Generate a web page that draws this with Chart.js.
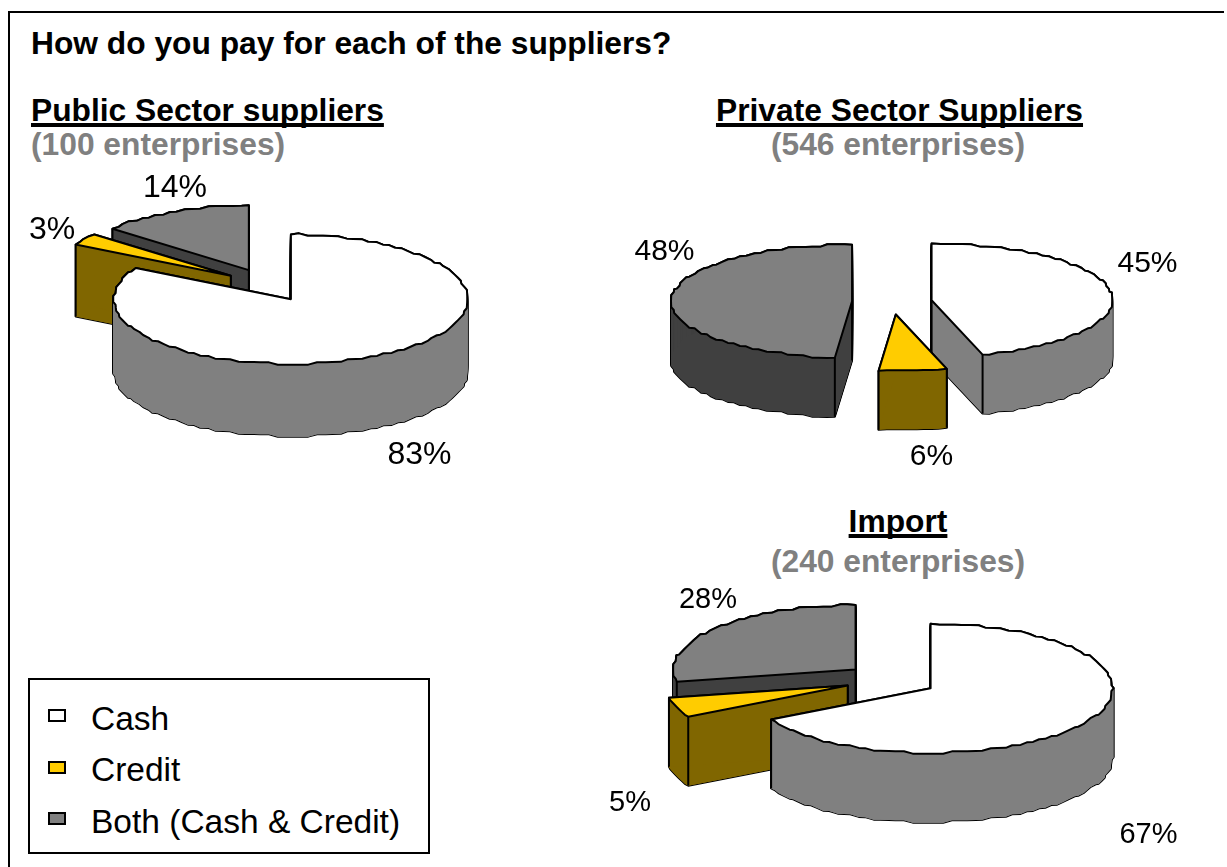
<!DOCTYPE html>
<html><head><meta charset="utf-8">
<script src="https://cdn.jsdelivr.net/npm/chart.js@4"></script>
<style>
html,body{margin:0;padding:0;background:#fff;}
body{width:1227px;height:867px;position:relative;overflow:hidden;font-family:"Liberation Sans",Arial,sans-serif;color:#000;}
#frame{position:absolute;left:8px;top:11px;width:1214px;height:870px;border-left:2px solid #000;border-top:2px solid #000;}
canvas{position:absolute;}
.t{position:absolute;white-space:nowrap;line-height:1;}
.b{font-weight:bold;font-size:31.75px;}
.u{text-decoration:underline;text-decoration-thickness:4px;text-underline-offset:1.5px;text-decoration-skip-ink:none;}
.g{color:#808080;}
.c{transform:translateX(-50%);}
#legend{position:absolute;left:28px;top:678px;width:398px;height:172px;border:2px solid #000;background:#fff;}
.sw{position:absolute;width:14px;height:9px;border:2px solid #000;box-sizing:content-box;}
</style></head><body>
<div id="frame"></div>
<div class="t b" style="left:31px;top:28px" id="heading"></div>
<div class="t b u" style="left:31px;top:95px" id="t0"></div>
<div class="t b g" style="left:31px;top:129px" id="s0"></div>
<div class="t b u c" style="left:899.5px;top:95px" id="t1"></div>
<div class="t b g c" style="left:898px;top:129px" id="s1"></div>
<div class="t b u c" style="left:898px;top:506px" id="t2"></div>
<div class="t b g c" style="left:898px;top:546px" id="s2"></div>
<div id="legend"></div>
<canvas id="c0"></canvas><canvas id="c1"></canvas><canvas id="c2"></canvas>
<script>
const heading = "How do you pay for each of the suppliers?";
const categories = ["Cash", "Credit", "Both (Cash & Credit)"];
const publicValues = [83, 3, 14];
const privateValues = [45, 6, 48];
const importValues = [67, 5, 28];
const chartTitles = ["Public Sector suppliers", "Private Sector Suppliers", "Import"];
const chartCounts = ["(100 enterprises)", "(546 enterprises)", "(240 enterprises)"];
const topColors = ["#FFFFFF", "#FFCC00", "#808080"];
const wallColors = ["#808080", "#806600", "#404040"];

const layouts = [
 {id:"c0", values:publicValues,  cx:267.5, cy:284.5, r:177, k:.366, depth:72, explode:45, order:[2,1,0], size:32,
  labels:[[419.5,453],[52,228],[175,186]]},
 {id:"c1", values:privateValues, cx:891.5, cy:302, r:181, k:.313, depth:59, explode:40, order:[2,0,1], size:30,
  labels:[[1147.5,262],[931.5,455],[664.5,250]]},
 {id:"c2", values:importValues,  cx:890.5, cy:680, r:182, k:.355, depth:69, explode:46, order:[2,1,0], size:29,
  labels:[[1148.5,833],[630,801],[708,598]]}
];
const W = 640, H = 440, GRID = 3, JAG = .75;
const snap = v => Math.round(v / GRID) * GRID;

document.getElementById("heading").textContent = heading;
chartTitles.forEach((s,i)=>document.getElementById("t"+i).textContent = s);
chartCounts.forEach((s,i)=>document.getElementById("s"+i).textContent = s);

const legend = document.getElementById("legend");
categories.forEach((name,i)=>{
  const y = 24 + i*51.5;
  const sw = document.createElement("div"); sw.className="sw";
  sw.style.cssText = `left:18px;top:${y+5}px;background:${topColors[i]}`;
  const tx = document.createElement("div"); tx.className="t";
  tx.style.cssText = `left:61px;top:${y-2.5}px;font-size:33.5px`;
  tx.textContent = name;
  legend.append(sw, tx);
});

// outline of one slice, in screen pixels, read from the library's arc element
function slicePts(el, L){
  const mid = (el.startAngle + el.endAngle)/2;
  const ox = el.x + Math.cos(mid)*L.explode, oy = el.y + Math.sin(mid)*L.explode*L.k;
  const P = a => [ox + Math.cos(a)*el.outerRadius, oy + Math.sin(a)*el.outerRadius*L.k];
  const len = (el.endAngle-el.startAngle)*el.outerRadius;
  const n = Math.max(2, Math.round(len/8));
  const rim = [];
  for(let i=0;i<=n;i++){
    const a = el.startAngle + (el.endAngle-el.startAngle)*i/n;
    const p = P(a);
    if(i===0||i===n) rim.push(p);
    else rim.push([p[0]+(snap(p[0])-p[0])*JAG, p[1]+(snap(p[1])-p[1])*JAG]);
  }
  return {apex:[ox,oy], rim, ox, oy};
}
function trace(ctx, s, dy){
  ctx.beginPath();
  ctx.moveTo(s.apex[0], s.apex[1]+dy);
  s.rim.forEach(p=>ctx.lineTo(p[0],p[1]+dy));
  ctx.closePath();
}
function band(ctx, pts, depth){
  ctx.beginPath();
  pts.forEach((p,j)=> j? ctx.lineTo(p[0],p[1]) : ctx.moveTo(p[0],p[1]));
  [...pts].reverse().forEach(p=>ctx.lineTo(p[0],p[1]+depth));
  ctx.closePath();
  ctx.fill();
}

const pie3d = {
  id:"pie3d",
  beforeDatasetsDraw(chart, args, opts){
    const L = opts.layout, ctx = chart.ctx;
    const els = chart.getDatasetMeta(0).data;
    ctx.lineJoin = "round"; ctx.lineWidth = 2; ctx.strokeStyle = "#000";
    L.order.forEach(i=>{
      const s = slicePts(els[i], L);
      for(let d=L.depth;d>=0;d--){ trace(ctx,s,d); ctx.stroke(); }
      ctx.fillStyle = wallColors[i];
      for(let d=L.depth;d>=0;d-=.5){ trace(ctx,s,d); ctx.fill(); }
      band(ctx, s.rim, L.depth);
      band(ctx, [s.apex, s.rim[0]], L.depth);
      band(ctx, [s.apex, s.rim[s.rim.length-1]], L.depth);
      // vertical edges that stand on the visible front of the slice
      [s.apex, s.rim[0], s.rim[s.rim.length-1]].forEach(p=>{
        const [x,y]=p;
        trace(ctx,s,0);
        if(!ctx.isPointInPath(x,y+3)){
          ctx.beginPath(); ctx.moveTo(x,y); ctx.lineTo(x,y+L.depth); ctx.stroke();
        }
      });
    });
    L.order.forEach(i=>{
      const el = els[i], s = slicePts(el,L);
      ctx.save();
      trace(ctx,s,0); ctx.clip();
      ctx.translate(s.ox, s.oy); ctx.scale(1,L.k); ctx.translate(-el.x,-el.y);
      el.draw(ctx);
      ctx.restore();
      ctx.fillStyle = topColors[i];
      trace(ctx,s,0); ctx.fill(); ctx.stroke();
    });
    return false;
  }
};

layouts.forEach((L)=>{
  const cv = document.getElementById(L.id);
  cv.width = W; cv.height = H;
  cv.style.cssText = `left:${L.cx-W/2}px;top:${L.cy-H/2}px;width:${W}px;height:${H}px`;
  new Chart(cv.getContext("2d"),{
    type:"pie",
    data:{labels:categories,datasets:[{data:L.values,backgroundColor:topColors,borderWidth:0,radius:L.r}]},
    options:{responsive:false,animation:false,events:[],layout:{padding:0},
      plugins:{legend:{display:false},tooltip:{enabled:false},title:{display:false},pie3d:{layout:L}}},
    plugins:[pie3d]
  });
  L.values.forEach((v,i)=>{
    const t = document.createElement("div"); t.className="t";
    t.textContent = v+"%";
    t.style.cssText = `left:${L.labels[i][0]}px;top:${L.labels[i][1]}px;font-size:${L.size}px;transform:translate(-50%,-50%);z-index:3`;
    document.body.append(t);
  });
});
</script>
</body></html>
